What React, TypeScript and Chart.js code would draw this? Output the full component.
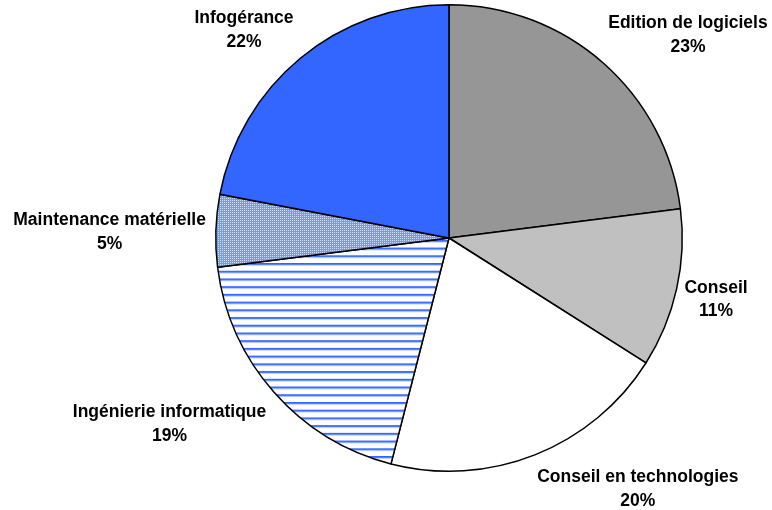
import React, { useEffect, useRef } from "react";
import { Chart, registerables } from "chart.js";

Chart.register(...registerables);

const categories: string[] = [
  "Edition de logiciels",
  "Conseil",
  "Conseil en technologies",
  "Ingénierie informatique",
  "Maintenance matérielle",
  "Infogérance",
];
const shares: number[] = [23, 11, 20, 19, 5, 22];
const percentLabels: string[] = ["23%", "11%", "20%", "19%", "5%", "22%"];

function stripePattern(): CanvasPattern | string {
  const c = document.createElement("canvas");
  c.width = 8;
  c.height = 8;
  const g = c.getContext("2d");
  if (!g) return "#99B3FF";
  g.fillStyle = "#FFFFFF";
  g.fillRect(0, 0, 8, 8);
  g.fillStyle = "#3366FF";
  g.fillRect(0, 0, 8, 1);
  g.fillStyle = "#4D79FF";
  g.fillRect(0, 1, 8, 1);
  g.fillStyle = "#C8D4FF";
  g.fillRect(0, 2, 8, 1);
  const p = g.createPattern(c, "repeat");
  if (!p) return "#99B3FF";
  try {
    p.setTransform(new DOMMatrix([1, 0, 0, 7.72 / 8, 0, 0.5]));
  } catch (e) {}
  return p;
}

function checkerPattern(): CanvasPattern | string {
  const c = document.createElement("canvas");
  c.width = 2;
  c.height = 2;
  const g = c.getContext("2d");
  if (!g) return "#8CA5FF";
  g.fillStyle = "#7896FF";
  g.fillRect(0, 0, 2, 2);
  g.fillStyle = "#D2DCFF";
  g.fillRect(0, 0, 1, 1);
  const p = g.createPattern(c, "repeat");
  return p || "#8CA5FF";
}

const clamp = (v: number, a: number, b: number) => Math.max(a, Math.min(b, v));

const outsideLabels = {
  id: "outsideLabels",
  afterDraw(chart: any) {
    const ctx: CanvasRenderingContext2D = chart.ctx;
    const meta = chart.getDatasetMeta(0);
    const fontSize = 17.5;
    const lineH = 23.5;
    const gap = 9;
    ctx.save();
    ctx.font = `bold ${fontSize}px "Liberation Sans", Arial, sans-serif`;
    ctx.fillStyle = "#000000";
    ctx.textAlign = "center";
    ctx.textBaseline = "middle";
    meta.data.forEach((arc: any, i: number) => {
      const { x, y, startAngle, endAngle, outerRadius } = arc.getProps(
        ["x", "y", "startAngle", "endAngle", "outerRadius"],
        true
      );
      const mid = (startAngle + endAngle) / 2;
      const dx = Math.cos(mid);
      const dy = Math.sin(mid);
      const lines = [categories[i], percentLabels[i]];
      const w = Math.max(...lines.map((l) => ctx.measureText(l).width));
      const h = lineH * lines.length;
      const ax = x + dx * outerRadius;
      const ay = y + dy * outerRadius;
      const fy = Math.abs(dy) > 0.5 ? Math.sign(dy) : clamp(dy * 1.2, -1, 1);
      const cx = ax + clamp(dx * 3, -1, 1) * (w / 2) + dx * gap - 1;
      const cy = ay + fy * (h / 2) + dy * gap + 2.5;
      lines.forEach((l, k) => {
        ctx.fillText(l, cx, cy - h / 2 + lineH * (k + 0.5));
      });
    });
    ctx.restore();
  },
};

export default function App() {
  const ref = useRef<HTMLCanvasElement | null>(null);
  useEffect(() => {
    if (!ref.current) return;
    const colors: any[] = [
      "#969696",
      "#C0C0C0",
      "#FFFFFF",
      stripePattern(),
      checkerPattern(),
      "#3366FF",
    ];
    const chart = new Chart(ref.current, {
      type: "pie",
      data: {
        labels: categories,
        datasets: [
          {
            data: shares,
            backgroundColor: colors,
            borderColor: "#000000",
            borderWidth: 1.5,
          },
        ],
      },
      options: {
        responsive: false,
        animation: false,
        layout: { padding: { left: 200, right: 74, top: 4, bottom: 38 } },
        plugins: {
          legend: { display: false },
          tooltip: { enabled: false },
        },
      },
      plugins: [outsideLabels],
    });
    return () => chart.destroy();
  }, []);
  return (
    <div style={{ position: "absolute", left: 0, top: 0, width: 772, height: 510, background: "#FFFFFF" }}>
      <canvas ref={ref} width={772} height={510} style={{ display: "block" }} />
    </div>
  );
}
